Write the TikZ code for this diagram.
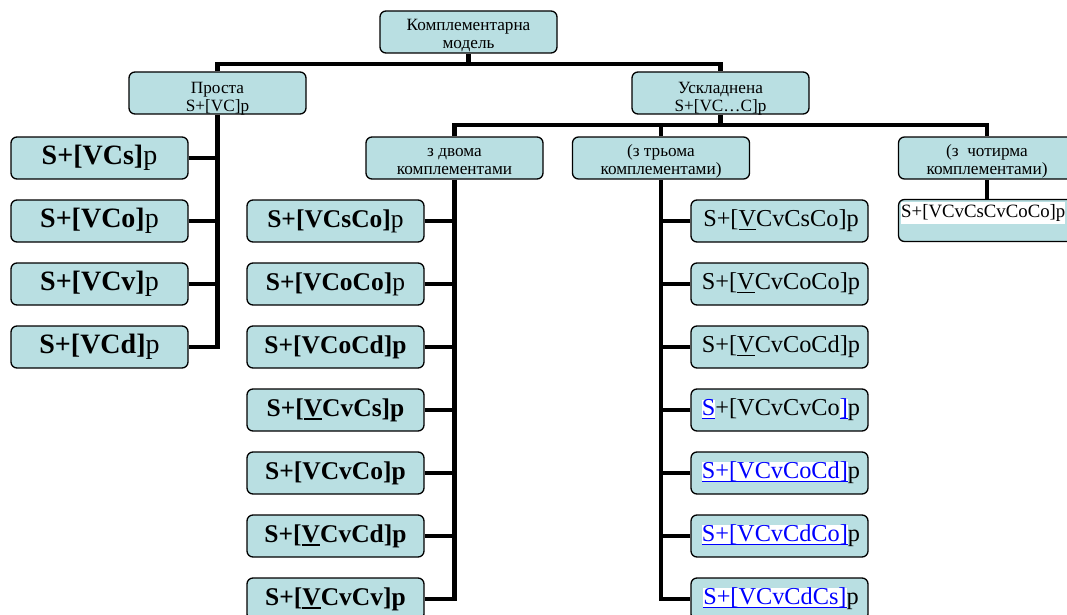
\documentclass[tikz,border=0pt]{standalone}
\usepackage{fontspec}
\setmainfont{Liberation Serif}
\definecolor{boxfill}{RGB}{185,223,226}
\definecolor{lnkblue}{RGB}{0,0,255}
\newcommand\myul[1]{{\setbox0\hbox{#1}\rlap{\rule[-3.5pt]{\wd0}{1.8pt}}\box0}}
\newcommand\lnk[1]{{\setlength{\fboxsep}{0pt}\colorbox{white}{\textcolor{lnkblue}{\myul{#1}}}}}
\newcommand\uV{\myul{V}}
\tikzset{
  box/.style={draw, line width=1.3pt, rounded corners=6pt, fill=boxfill,
    minimum width=177pt, minimum height=42pt, inner sep=0pt},
  hdr/.style={font=\fontsize{17.2}{18}\selectfont, align=center, inner sep=0pt},
  leafA/.style={box, font=\fontsize{28}{30}\selectfont},
  leafB/.style={box, font=\fontsize{25.5}{27}\selectfont},
  leafC/.style={box, font=\fontsize{24.3}{26}\selectfont, text width=177pt, align=center},
  conn/.style={line width=4.2pt, line join=miter},
}
\begin{document}
\begin{tikzpicture}[x=1pt,y=-1pt]
\useasboundingbox (0,0) rectangle (1067,615);
\clip (0,0) rectangle (1067,615);

% header boxes
\node[box] (top) at (468.5,32) {};
\node[hdr] (topt) at (468.5,36) {Комплементарна\\модель};
\node[box] (pr) at (217.5,93) {};
\node[hdr] (prt) at (217.5,98.5) {Проста\\S+[VC]p};
\node[box] (us) at (720.5,93) {};
\node[hdr] (ust) at (720.5,98.5) {Ускладнена\\S+[VC…C]p};
\node[box] (h2) at (454.5,158) {};
\node[hdr] (h2t) at (454.5,161.5) {з двома\\комплементами};
\node[box] (h3) at (661,158) {};
\node[hdr] (h3t) at (661,161.5) {(з трьома\\комплементами)};
\node[box] (h4) at (987,158) {};
\node[hdr] (h4t) at (987,161.5) {(з\ \ чотирма\\комплементами)};

% left column
\node[leafA] (l1) at (99.5,158) {\textbf{S+[VCs]}p};
\node[leafA] (l2) at (99.5,221) {\textbf{S+[VCo]}p};
\node[leafA] (l3) at (99.5,284) {\textbf{S+[VCv]}p};
\node[leafA] (l4) at (99.5,347) {\textbf{S+[VCd]}p};

% column 2
\node[leafB] (b1) at (335.5,221) {\textbf{S+[VCsCo]}p};
\node[leafB] (b2) at (335.5,284) {\textbf{S+[VCoCo]}p};
\node[leafB] (b3) at (335.5,347) {\textbf{S+[VCoCd]p}};
\node[leafB] (b4) at (335.5,410) {\textbf{S+[\uV CvCs]p}};
\node[leafB] (b5) at (335.5,473) {\textbf{S+[VCvCo]p}};
\node[leafB] (b6) at (335.5,536) {\textbf{S+[\uV CvCd]p}};
\node[leafB] (b7) at (335.5,599) {\textbf{S+[\uV CvCv]p}};

% column 3
\node[leafC] (c1) at (779.5,221) {\hspace*{3pt}S+[\uV CvCsCo]p};
\node[leafC] (c2) at (779.5,284) {\hspace*{3pt}S+[\uV CvCoCo]p};
\node[leafC] (c3) at (779.5,347) {\hspace*{3pt}S+[\uV CvCoCd]p};
\node[leafC] (c4) at (779.5,410) {\hspace*{3pt}\lnk{S}+[VCvCvCo\lnk{]}p};
\node[leafC] (c5) at (779.5,473) {\hspace*{3pt}\lnk{S+[VCvCoCd]}p};
\node[leafC] (c6) at (779.5,536) {\hspace*{3pt}\lnk{S+[VCvCdCo]}p};
\node[leafC] (c7) at (779.5,599) {\hspace*{3pt}\lnk{S+[VCvCdCs]}p};

% column 4
\node[box] (d1) at (987,220.5) {};
\node[anchor=west, fill=white, inner xsep=0pt, inner ysep=2.5pt,
  font=\fontsize{18.8}{20}\selectfont] (d1t) at (901,213) {S+[VCvCsCvCoCo]p};

% connectors
\coordinate (bar1) at (468.5,64);
\coordinate (bar2) at (720.5,125);
\draw[conn] (top.south) -- (bar1);
\draw[conn] (pr.north) |- (bar1) -| (us.north);
\draw[conn] (us.south) -- (bar2);
\draw[conn] (h2.north) |- (bar2) -| (h4.north);
\draw[conn] (h3.north) -- (h3.north |- bar2);

\draw[conn] (pr.south) |- (l4.east);
\foreach \n in {l1,l2,l3}
  \draw[conn] (\n.east) -- (\n.east -| pr.south);

\draw[conn] (h2.south) |- (b7.east);
\foreach \n in {b1,b2,b3,b4,b5,b6}
  \draw[conn] (\n.east) -- (\n.east -| h2.south);

\draw[conn] (h3.south) |- (c7.west);
\foreach \n in {c1,c2,c3,c4,c5,c6}
  \draw[conn] (\n.west) -- (\n.west -| h3.south);

\draw[conn] (h4.south) -- (d1.north);
\end{tikzpicture}
\end{document}
